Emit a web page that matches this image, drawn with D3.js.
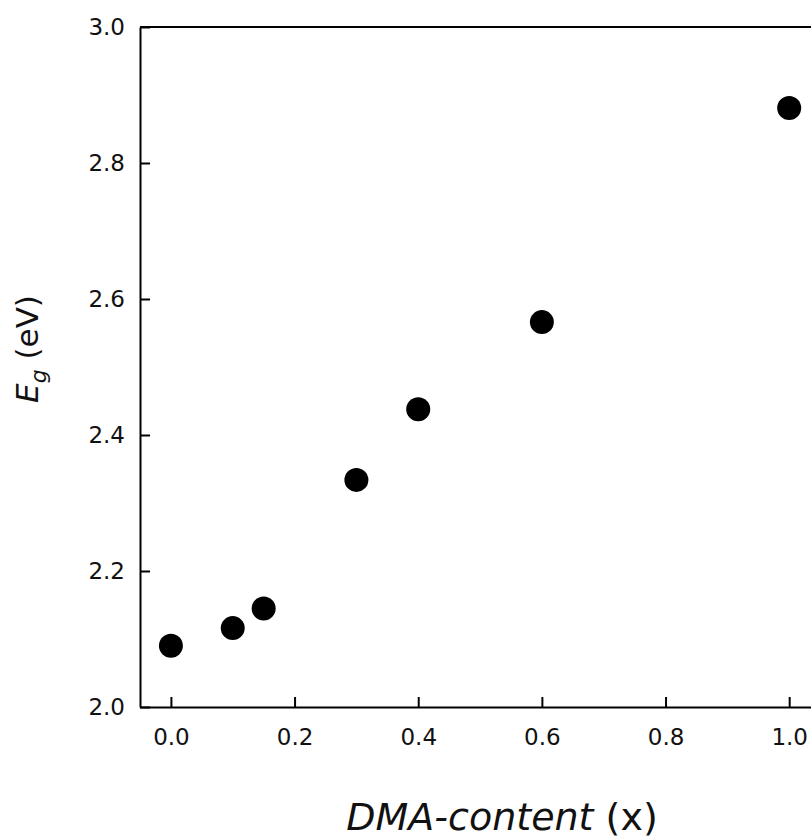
<!DOCTYPE html>
<html>
<head>
<meta charset="utf-8">
<script src="https://cdn.jsdelivr.net/npm/d3@7"></script>
<style>
    body { margin: 0; background: #fff; }
    svg { display: block; font-family: "DejaVu Sans", sans-serif; }
    .axis path, .axis line { stroke: #000; stroke-width: 2; }
    .axis text { font-size: 23px; fill: #111; }
</style>
</head>
<body>
<div id="chart"></div>
<script>
// DMA content and band gap values
var dmaContent = [0, 0.1, 0.15, 0.3, 0.4, 0.6, 1.0];
var bandGap = [2.090, 2.116, 2.145, 2.334, 2.438, 2.566, 2.881];

// Tick labels
var xTicks = [0, 0.2, 0.4, 0.6, 0.8, 1.0];
var yTicks = [2.0, 2.2, 2.4, 2.6, 2.8, 3.0];

var svgWidth = 811,
    svgHeight = 839,
    margin = { top: 27, left: 140, bottom: 132 },
    height = svgHeight - margin.top - margin.bottom;

var svg = d3.select("#chart").append("svg")
    .attr("width", svgWidth)
    .attr("height", svgHeight);

// Scales (right side of the frame runs past the page edge)
var x = d3.scaleLinear()
    .domain([-0.05, 1.05])
    .range([margin.left, margin.left + 680.1]);

var y = d3.scaleLinear()
    .domain([2.0, 3.0])
    .range([margin.top + height, margin.top]);

// Frame: top and right lines
svg.append("line")
    .attr("x1", x(-0.05)).attr("x2", x(1.05))
    .attr("y1", y(3.0)).attr("y2", y(3.0))
    .attr("stroke", "#000").attr("stroke-width", 2);
svg.append("line")
    .attr("x1", x(1.05)).attr("x2", x(1.05))
    .attr("y1", y(3.0)).attr("y2", y(2.0))
    .attr("stroke", "#000").attr("stroke-width", 2);

// X axis, ticks pointing inward
svg.append("g")
    .attr("class", "axis")
    .attr("transform", "translate(0," + y(2.0) + ")")
    .call(d3.axisBottom(x).tickValues(xTicks).tickFormat(d3.format(".1f"))
        .tickSizeInner(-10).tickSizeOuter(0).tickPadding(22));

// Y axis
svg.append("g")
    .attr("class", "axis")
    .attr("transform", "translate(" + x(-0.05) + ",0)")
    .call(d3.axisLeft(y).tickValues(yTicks).tickFormat(d3.format(".1f"))
        .tickSizeInner(-10).tickSizeOuter(0).tickPadding(15));

svg.selectAll(".axis text").attr("font-family", "DejaVu Sans, sans-serif");

// Data points
svg.selectAll(".dot")
    .data(dmaContent)
    .join("circle")
        .attr("class", "dot")
        .attr("cx", d => x(d))
        .attr("cy", (d, i) => y(bandGap[i]))
        .attr("r", 12)
        .attr("fill", "#000");

// X axis label
var xLabel = svg.append("text")
    .attr("x", 502)
    .attr("y", 830)
    .attr("text-anchor", "middle")
    .style("font-size", "38px")
    .attr("fill", "#111");
xLabel.append("tspan").style("font-style", "italic").text("DMA-content");
xLabel.append("tspan").text(" (x)");

// Y axis label
var yLabel = svg.append("text")
    .attr("transform", "translate(38,349) rotate(-90)")
    .attr("text-anchor", "middle")
    .style("font-size", "31px")
    .attr("fill", "#111");
yLabel.append("tspan").style("font-style", "italic").text("E");
yLabel.append("tspan").style("font-style", "italic").style("font-size", "22px")
    .attr("dy", 8).text("g");
yLabel.append("tspan").attr("dy", -8).text(" (eV)");
</script>
</body>
</html>
